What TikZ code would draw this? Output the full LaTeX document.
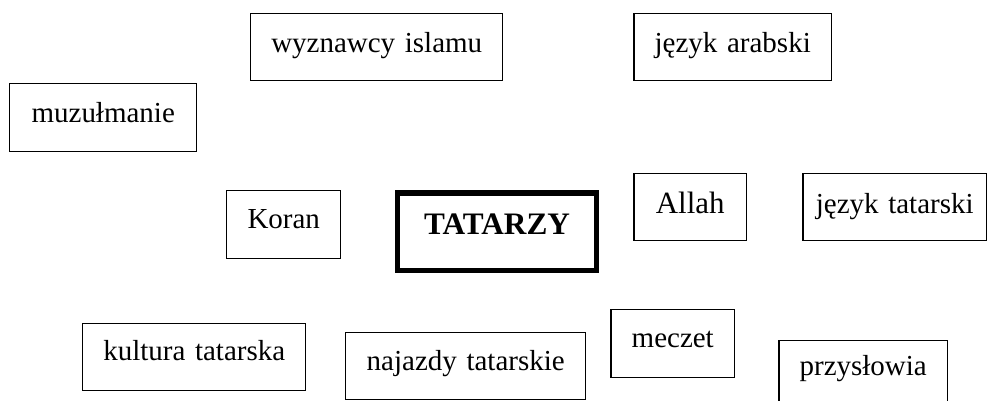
\documentclass[tikz,border=0pt]{standalone}
\usepackage{fontspec}
\setmainfont{Liberation Serif}
\usepackage{tikz}
\usetikzlibrary{positioning}

\tikzset{
  word/.style={draw, line width=0.85pt, inner sep=0pt, align=center,
    anchor=north west, font=\fontsize{16.5}{20}\selectfont},
  main/.style={word, line width=2.85pt, font=\fontsize{17.8}{21}\selectfont\bfseries}
}

\begin{document}
\begin{tikzpicture}[x=0.02cm,y=-0.02cm]
      \useasboundingbox (0,0) rectangle (987,401);
      \node[word,text width=5.04cm,text height=0.78cm,text depth=0.56cm] (islam) at (250,13) {wyznawcy islamu};
      \node[word,text width=3.96cm,text height=0.78cm,text depth=0.56cm] (arabski) at (633,13) {język arabski};
      \node[word,text width=3.74cm,text height=0.78cm,text depth=0.58cm] (muzulmanie) at (9,83) {muzułmanie};
      \node[word,text width=2.28cm,text height=0.76cm,text depth=0.60cm] (koran) at (226,190) {Koran};
      \node[main,text width=4.0cm,text height=0.83cm,text depth=0.73cm] (tatarzy) at (394.5,190.5) {TATARZY};
      \node[word,font=\fontsize{17.6}{21}\selectfont,text width=2.26cm,text height=0.80cm,text depth=0.54cm] (allah) at (633,173) {Allah};
      \node[word,text width=3.68cm,text height=0.80cm,text depth=0.54cm] (tatarski) at (802,173) {język tatarski};
      \node[word,text width=4.46cm,text height=0.74cm,text depth=0.60cm] (kultura) at (82,323) {kultura tatarska};
      \node[word,text width=4.80cm,text height=0.76cm,text depth=0.58cm] (najazdy) at (345,332) {najazdy tatarskie};
      \node[word,text width=2.48cm,text height=0.76cm,text depth=0.60cm] (meczet) at (610,309) {meczet};
      \node[word,text width=3.38cm,text height=0.70cm,text depth=0.70cm] (przyslowia) at (778,340) {przysłowia};
    \end{tikzpicture}
\end{document}
